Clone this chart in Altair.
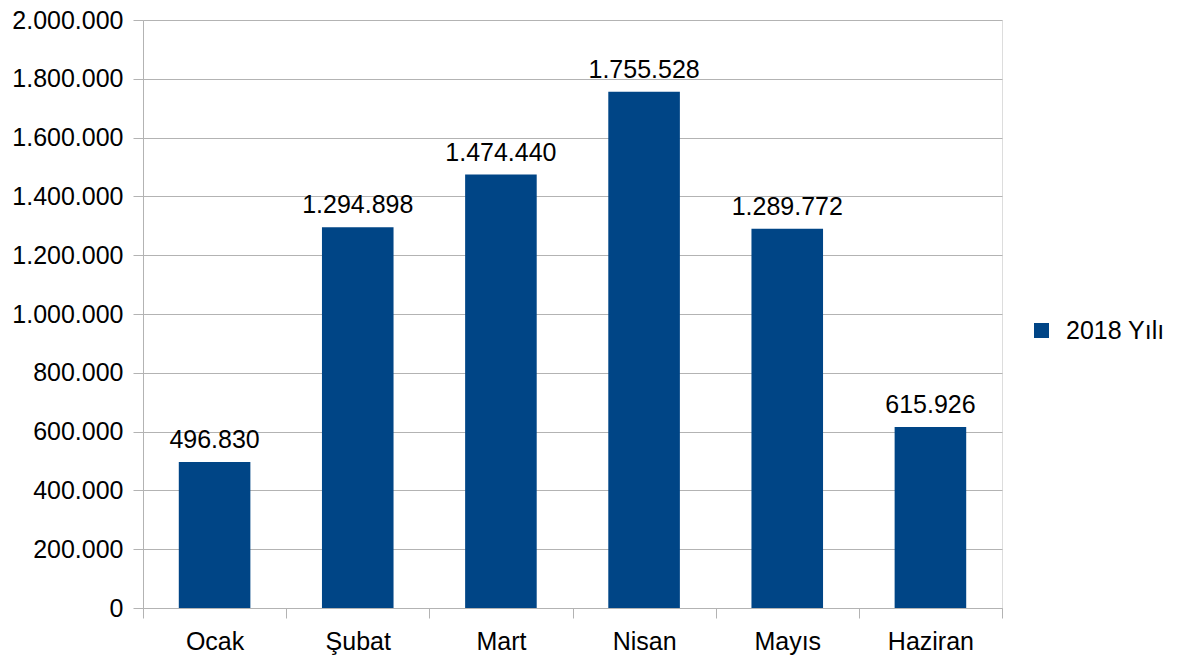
import altair as alt
import pandas as pd

months = ["Ocak", "Şubat", "Mart", "Nisan", "Mayıs", "Haziran"]
values = [496830, 1294898, 1474440, 1755528, 1289772, 615926]
series = "2018 Yılı"

df = pd.DataFrame({"ay": months, "deger": values})
df["etiket"] = [f"{v:,}".replace(",", ".") for v in values]
df["seri"] = series

FONT = "Liberation Sans"
GRID = "#b3b3b3"
BAR = "#004586"
FS = 25

x = alt.X(
    "ay:N",
    sort=months,
    title=None,
    scale=alt.Scale(paddingInner=0, paddingOuter=0),
    axis=alt.Axis(
        labelAngle=0,
        tickBand="extent",
        tickSize=10,
        tickColor=GRID,
        domainColor=GRID,
        labelPadding=11,
        labelFontSize=FS,
        labelFont=FONT,
        labelColor="#000000",
        grid=False,
    ),
)

y = alt.Y(
    "deger:Q",
    title=None,
    scale=alt.Scale(domain=[0, 2000000], nice=False),
    axis=alt.Axis(
        values=list(range(0, 2000001, 200000)),
        labelExpr="replace(format(datum.value, ','), /,/g, '.')",
        tickSize=10,
        tickColor=GRID,
        domainColor=GRID,
        gridColor=GRID,
        labelPadding=10,
        labelFontSize=FS,
        labelFont=FONT,
        labelColor="#000000",
    ),
)

bars = alt.Chart(df).mark_bar(width=alt.RelativeBandSize(0.5)).encode(
    x=x,
    y=y,
    color=alt.Color(
        "seri:N",
        scale=alt.Scale(domain=[series], range=[BAR]),
        legend=alt.Legend(
            title=None,
            orient="none",
            legendX=886,
            legendY=298,
            symbolType="square",
            symbolSize=225,
            symbolStrokeWidth=0,
            labelFontSize=FS,
            labelFont=FONT,
            labelColor="#000000",
            labelOffset=12,
            padding=0,
        ),
    ),
)

labels = alt.Chart(df).mark_text(
    baseline="alphabetic", dy=-14, fontSize=FS, font=FONT, color="#000000"
).encode(x=alt.X("ay:N", sort=months), y="deger:Q", text="etiket:N")

chart = (
    alt.layer(bars, labels)
    .properties(
        width=859,
        height=588,
        autosize=alt.AutoSizeParams(type="none"),
        padding={"left": 135, "top": 12, "right": 169, "bottom": 48},
    )
    .configure_view(stroke=GRID)
    .configure(background="white")
)

chart.save("out.html", embed_options={"renderer": "svg", "actions": False})
